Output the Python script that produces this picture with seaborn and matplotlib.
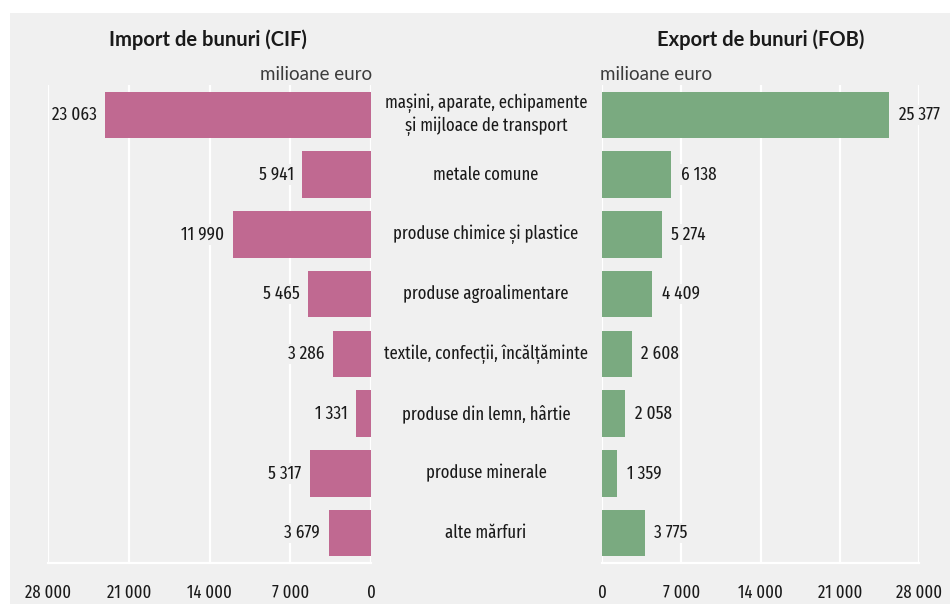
import numpy as np
import pandas as pd
import matplotlib
matplotlib.use("Agg")
import matplotlib.pyplot as plt
import matplotlib.transforms as mtransforms
from matplotlib.patches import Rectangle
import seaborn as sns

# Data (milioane euro)
categories = [
    "mașini, aparate, echipamente\nși mijloace de transport",
    "metale comune",
    "produse chimice și plastice",
    "produse agroalimentare",
    "textile, confecții, încălțăminte",
    "produse din lemn, hârtie",
    "produse minerale",
    "alte mărfuri",
]
import_values = [23063, 5941, 11990, 5465, 3286, 1331, 5317, 3679]
export_values = [25377, 6138, 5274, 4409, 2608, 2058, 1359, 3775]
tick_values = [0, 7000, 14000, 21000, 28000]

df = pd.DataFrame({"categorie": categories, "import": import_values, "export": export_values})

sns.set_style("white")
COND = ["Fira Sans Extra Condensed", "Fira Sans Condensed", "Liberation Sans Narrow", "DejaVu Sans"]
WIDE = ["Lato", "Open Sans", "DejaVu Sans"]
plt.rcParams["font.family"] = COND

BG = "#f0f0f0"
PINK = "#c06991"
GREEN = "#7aaa80"
W, H = 950, 604

fig = plt.figure(figsize=(9.5, 6.04), dpi=100)
fig.patch.set_facecolor("white")
fig.patches.append(Rectangle((10 / W, 0), 1, (H - 13) / H, transform=fig.transFigure,
                             facecolor=BG, edgecolor="none", zorder=-10))

bottom = (H - 563) / H
height = (563 - 85) / H
ax_l = fig.add_axes([48 / W, bottom, 323 / W, height])
ax_r = fig.add_axes([602 / W, bottom, 317 / W, height])


def fmt(v):
    return f"{v:,}".replace(",", " ")


def style_axis(ax):
    ax.set_facecolor("none")
    for s in ["left", "top", "right"]:
        ax.spines[s].set_visible(False)
    ax.spines["bottom"].set_color("white")
    ax.spines["bottom"].set_linewidth(1.6)
    ax.set_xlim(0, 28000)
    ax.set_xticks(tick_values)
    ax.set_xticklabels([fmt(v) for v in tick_values])
    ax.tick_params(axis="x", colors="white", length=7, width=1.6, pad=8,
                   labelcolor="#1a1a1a", labelsize=13)
    ax.tick_params(axis="y", left=False, labelleft=False)
    ax.xaxis.grid(True, color="white", linewidth=1.6)
    ax.set_axisbelow(True)
    ax.set_ylabel("")
    ax.set_xlabel("")
    ax.set_ylim(7.5, -0.5)


sns.barplot(data=df, x="import", y="categorie", ax=ax_l, color=PINK, width=0.78,
            saturation=1, orient="h", linewidth=0)
sns.barplot(data=df, x="export", y="categorie", ax=ax_r, color=GREEN, width=0.78,
            saturation=1, orient="h", linewidth=0)

style_axis(ax_l)
style_axis(ax_r)
ax_l.invert_xaxis()

lbl_box = dict(facecolor=BG, edgecolor="none", pad=1)
for i, v in enumerate(import_values):
    ax_l.annotate(fmt(v), xy=(v, i), xytext=(-6, 0), textcoords="offset points",
                  ha="right", va="center", fontsize=13.5, color="#1a1a1a", bbox=lbl_box)
for i, v in enumerate(export_values):
    ax_r.annotate(fmt(v), xy=(v, i), xytext=(7, 0), textcoords="offset points",
                  ha="left", va="center", fontsize=13.5, color="#1a1a1a", bbox=lbl_box)

# category labels between the two panels
trans = mtransforms.blended_transform_factory(fig.transFigure, ax_l.transData)
for i, c in enumerate(categories):
    fig.text(486 / W, i, c, transform=trans, ha="center", va="center",
             fontsize=13, color="#1a1a1a", linespacing=1.25)

# titles and unit labels
fig.text(208 / W, (H - 40) / H, "Import de bunuri (CIF)", ha="center", va="center",
         fontsize=14.5, fontweight="bold", color="#1a1a1a", family=WIDE)
fig.text(761 / W, (H - 40) / H, "Export de bunuri (FOB)", ha="center", va="center",
         fontsize=14.5, fontweight="bold", color="#1a1a1a", family=WIDE)
fig.text(372 / W, (H - 74) / H, "milioane euro", ha="right", va="center",
         fontsize=13.5, color="#3c3c3c", family=WIDE)
fig.text(600 / W, (H - 74) / H, "milioane euro", ha="left", va="center",
         fontsize=13.5, color="#3c3c3c", family=WIDE)

fig.savefig("out.png", dpi=100, facecolor=fig.get_facecolor())
